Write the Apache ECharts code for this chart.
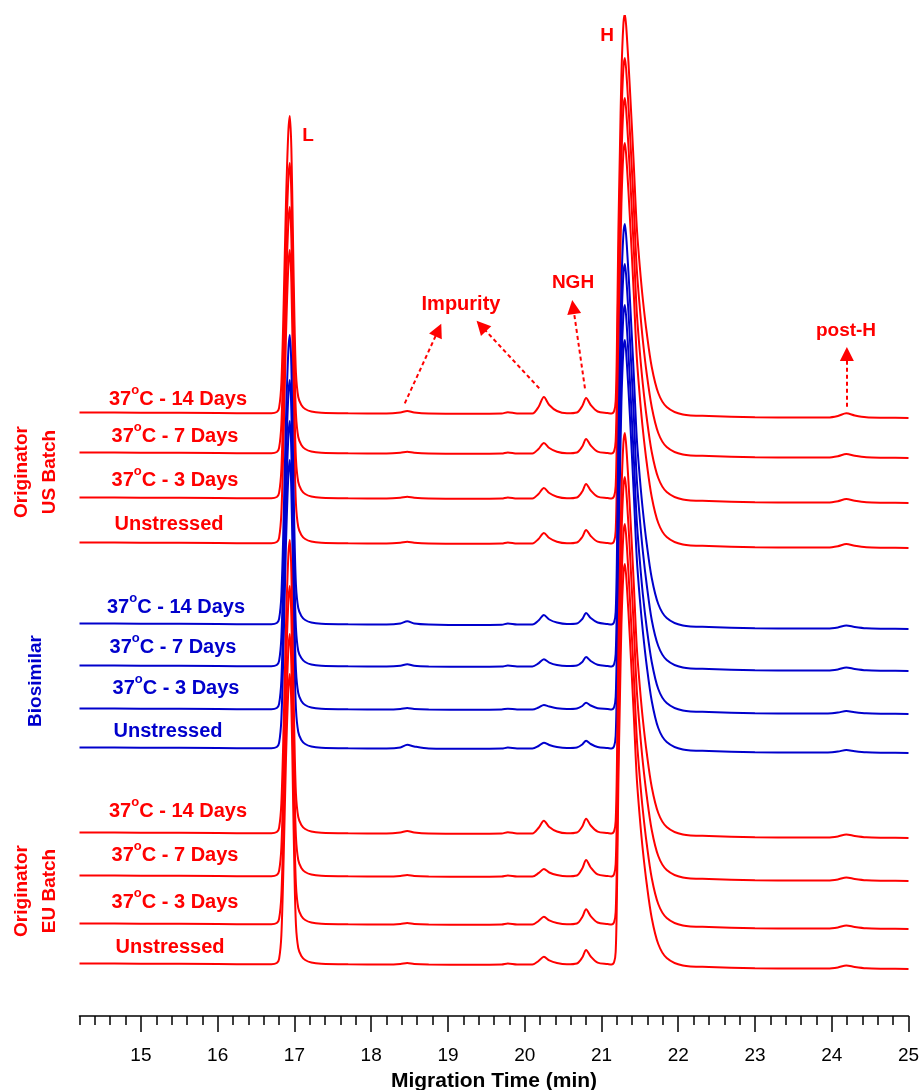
<!DOCTYPE html>
<html><head><meta charset="utf-8">
<script src="https://cdn.jsdelivr.net/npm/echarts@6/dist/echarts.min.js"></script>
<style>html,body{margin:0;padding:0;background:#fff}#c{width:921px;height:1090px}</style>
</head><body><div id="c"></div>
<script>
// Migration time grid (min) shared by all traces
const times = [14.2,15.0,16.0,16.5,16.70,16.77,16.80,
  16.83,16.86,16.89,16.92,16.94,16.96,16.98,17.00,17.02,17.05,17.09,17.14,17.22,17.35,
  17.7,18.2,18.38,18.47,18.56,18.75,19.3,19.7,19.78,19.9,20.1,
  20.18,20.25,20.32,20.42,20.55,
  20.68,20.75,20.80,20.86,20.95,21.08,21.13,
  21.165,21.185,21.20,21.22,21.24,21.26,21.285,21.305,21.33,21.37,21.42,21.46,21.50,21.54,21.59,21.655,21.74,21.85,22.06,
  22.4,23.0,23.6,23.95,24.08,24.19,24.3,24.45,24.7,25.0];

// Vertical offset (stack baseline) of each trace
const baselines = [603,563,518,473, 392,350,307,268, 183,140,92,52];

// Signal above each trace's baseline
const us14 = [0.5,0.3,0,-0.3,-0.3,1,5, 30,110,210,280,297,265,180,95,40,16,8,4,1.5,0.3, -0.3,-0.5,0.5,2,0.5,-0.5,-0.7,-0.5,0.8,-0.5,-0.5, 6,16,8,2,-0.3, 0.5,7,15,8,1.5,0,-0.5, 2,12,60,180,262,338,388,399,378,325,250,186,146,113,80,46,20,6,-1.5, -3,-4.2,-4.5,-4.5,-3,-0.3,-2.5,-4.3,-4.7,-5];
const us7 = [0.5,0.3,0,-0.3,-0.3,1,5, 29,107,205,273,290,259,176,93,39,16,8,4,1.5,0.3, -0.3,-0.5,0.2,1.2,0.2,-0.5,-0.7,-0.5,0.6,-0.5,-0.5, 4,10,5,1.2,-0.3, 0.5,6.5,14,7.5,1.4,0,-0.5, 2,12,59,178,259,335,384,395,374,322,248,184,145,112,79,46,20,6,-1.5, -3,-4.2,-4.5,-4.5,-3.2,-1,-2.8,-4.3,-4.7,-5];
const us3 = [0.5,0.3,0,-0.3,-0.3,1,5, 29,108,206,274,291,260,176,93,39,16,8,4,1.5,0.3, -0.3,-0.5,0.2,1.2,0.2,-0.5,-0.7,-0.5,0.6,-0.5,-0.5, 4,10,5,1.2,-0.3, 0.5,6.5,14,7.5,1.4,0,-0.5, 2,12,60,180,263,339,389,400,379,326,251,186,146,113,80,46,20,6,-1.5, -3,-4.2,-4.5,-4.5,-3.2,-1,-2.8,-4.3,-4.7,-5];
const usU = [0.5,0.3,0,-0.3,-0.3,1,5, 30,109,207,276,293,261,178,94,39,16,8,4,1.5,0.3, -0.3,-0.5,0.2,1.2,0.2,-0.5,-0.7,-0.5,0.6,-0.5,-0.5, 4,10,5,1.2,-0.3, 0.5,6,13,7,1.3,0,-0.5, 2,12,60,180,263,339,389,400,379,326,251,186,146,113,80,46,20,6,-1.5, -3,-4.2,-4.5,-4.5,-3.2,-1,-2.8,-4.3,-4.7,-5];
const bio14 = [0.5,0.3,0,-0.3,-0.3,1,5, 29,107,204,272,289,258,175,92,39,16,8,4,1.5,0.3, -0.3,-0.5,0.5,2.7,0.5,-0.5,-1,-0.8,0.5,-0.5,-0.5, 3.5,9,4.5,1.5,0, 0.5,5,11,6,1.5,0,-0.5, 2,12,60,180,263,339,389,400,379,326,251,186,146,113,80,46,20,6,-1.5, -3,-4.2,-4.5,-4.5,-3.4,-1.5,-3,-4.3,-4.7,-5];
const bio7 = [0.5,0.3,0,-0.3,-0.3,1,5, 29,106,202,270,286,255,173,91,38,15,8,4,1.5,0.3, -0.3,-0.5,0.2,1.8,0.2,-0.5,-0.8,-0.6,0.4,-0.5,-0.5, 2.7,6.7,3.4,1,0, 0.5,4,9,5,1.2,0,-0.5, 2,12,60,181,264,341,391,402,381,328,252,187,147,114,81,46,20,6,-1.5, -3,-4.2,-4.5,-4.5,-3.4,-1.5,-3,-4.3,-4.7,-5];
const bio3 = [0.5,0.3,0,-0.3,-0.3,1,5, 29,107,204,271,288,257,175,92,39,16,8,4,1.5,0.3, -0.3,-0.5,0,1,0,-0.5,-0.7,-0.5,0.3,-0.5,-0.5, 1.5,4,2.5,0.8,0, 0.5,3,6.3,3.5,0.8,0,-0.5, 2,12,61,182,265,342,393,404,383,329,253,188,148,114,81,47,20,6,-1.5, -3,-4.2,-4.5,-4.5,-3.6,-2,-3.2,-4.3,-4.7,-5];
const bioU = [0.5,0.3,0,-0.3,-0.3,1,5, 29,107,204,271,288,257,175,92,39,16,8,4,1.5,0.3, -0.3,-0.5,0.5,3.2,1.5,-0.5,-0.8,-0.6,0.4,-0.5,-0.5, 2,5.3,3,1,0, 0.5,3.5,7.3,4,1,0,-0.5, 2,12,61,184,268,346,397,408,386,333,256,190,149,116,82,47,20,6,-1.5, -3,-4.2,-4.5,-4.5,-3.6,-2,-3.2,-4.3,-4.7,-5];
const eu14 = [0.5,0.3,0,-0.3,-0.3,1,5, 30,109,207,276,293,261,178,94,39,16,8,4,1.5,0.3, -0.3,-0.5,0.5,2,0.5,-0.5,-0.7,-0.5,0.8,-0.5,-0.5, 5,12.3,6,1.5,-0.3, 0.5,6.5,14.3,7.5,1.4,0,-0.5, 2,12,60,180,263,339,389,400,379,326,251,186,146,113,80,46,20,6,-1.5, -3,-4.2,-4.5,-4.5,-3.4,-1.5,-3,-4.3,-4.7,-5];
const eu7 = [0.5,0.3,0,-0.3,-0.3,1,5, 29,107,205,273,290,259,176,93,39,16,8,4,1.5,0.3, -0.3,-0.5,0,1,0,-0.5,-0.7,-0.5,0.5,-0.5,-0.5, 2.8,7,3.5,1,-0.3, 0.5,7.5,16,8.5,1.6,0,-0.5, 2,12,60,180,262,338,388,399,378,325,250,186,146,113,80,46,20,6,-1.5, -3,-4.2,-4.5,-4.5,-3.4,-1.5,-3,-4.3,-4.7,-5];
const eu3 = [0.5,0.3,0,-0.3,-0.3,1,5, 29,107,205,273,290,259,176,93,39,16,8,4,1.5,0.3, -0.3,-0.5,0,1,0,-0.5,-0.7,-0.5,0.5,-0.5,-0.5, 3,7.3,3.6,1,-0.3, 0.5,7,14.7,7.8,1.5,0,-0.5, 2,12,60,180,263,339,389,400,379,326,251,186,146,113,80,46,20,6,-1.5, -3,-4.2,-4.5,-4.5,-3.4,-1.5,-3,-4.3,-4.7,-5];
const euU = [0.5,0.3,0,-0.3,-0.3,1,5, 29,107,205,273,290,259,176,93,39,16,8,4,1.5,0.3, -0.3,-0.5,0,1,0,-0.5,-0.7,-0.5,0.5,-0.5,-0.5, 3,7.3,3.6,1,-0.3, 0.5,6.5,14,7.5,1.4,0,-0.5, 2,12,60,180,263,339,389,400,379,326,251,186,146,113,80,46,20,6,-1.5, -3,-4.2,-4.5,-4.5,-3.4,-1.5,-3,-4.3,-4.7,-5];

const traces = [us14,us7,us3,usU, bio14,bio7,bio3,bioU, eu14,eu7,eu3,euU];
const traceNames = ['Originator US 37°C - 14 Days','Originator US 37°C - 7 Days','Originator US 37°C - 3 Days','Originator US Unstressed',
  'Biosimilar 37°C - 14 Days','Biosimilar 37°C - 7 Days','Biosimilar 37°C - 3 Days','Biosimilar Unstressed',
  'Originator EU 37°C - 14 Days','Originator EU 37°C - 7 Days','Originator EU 37°C - 3 Days','Originator EU Unstressed'];
const traceGroup = [0,0,0,0,1,1,1,1,0,0,0,0];
const traceLabels = ['37{s|o}C - 14 Days','37{s|o}C - 7 Days','37{s|o}C - 3 Days','Unstressed'];
const groupLabels = ['Originator\nUS Batch','Biosimilar','Originator\nEU Batch'];
const tickLabels = [15,16,17,18,19,20,21,22,23,24,25];

// Annotation arrows: [start, arrow-head] in (min, signal) units
const arrows = [
  [[18.438,612.7],[18.875,686]],
  [[20.189,627.7],[19.435,690]],
  [[20.785,627.7],[20.632,709]],
  [[24.197,609.3],[24.197,662]]
];

const RED = '#FF0000', BLUE = '#0000CC';
const colors = [RED, BLUE];
const FONT = '"Liberation Sans", Arial, sans-serif';

const minorTicks = [];
for (let k = 71; k <= 125; k++) minorTicks.push(+(k * 0.2).toFixed(1));

const series = traces.map((rel, i) => ({
  type: 'line', name: traceNames[i],
  data: times.map((t, k) => [t, baselines[i] + rel[k]]),
  showSymbol: false, symbol: 'none', smooth: 0.3,
  lineStyle: { color: colors[traceGroup[i]], width: 2 },
  itemStyle: { color: colors[traceGroup[i]] },
  silent: true, animation: false, z: 2
}));
series[0].markLine = {
  silent: true, animation: false,
  symbol: ['none', 'triangle'], symbolSize: 14,
  label: { show: false },
  lineStyle: { color: RED, width: 2, type: [4, 3] },
  itemStyle: { color: RED },
  data: arrows.map(a => [{ coord: a[0] }, { coord: a[1] }])
};

// text annotations (layout positions in pixels)
const labelPos = [
  [178,399],[175,436],[175,480],[169,524],
  [176,607],[173,647],[176,688],[168,731],
  [178,811],[175,855],[175,902],[170,947]
];
const graphics = [];
labelPos.forEach((p, i) => {
  const col = colors[traceGroup[i]];
  graphics.push({
    type: 'text', x: p[0], y: p[1], silent: true,
    style: {
      text: traceLabels[i % 4], fill: col,
      font: 'bold 20px ' + FONT, lineHeight: 30,
      align: 'center', verticalAlign: 'middle', textAlign: 'center', textVerticalAlign: 'middle',
      rich: { s: { fontSize: 13, fontWeight: 'bold', fontFamily: FONT, lineHeight: 13, verticalAlign: 'top', fill: col } }
    }
  });
});
const groupPos = [[36,472,RED],[36,681,BLUE],[36,891,RED]];
groupPos.forEach((p, i) => {
  graphics.push({
    type: 'text', x: p[0], y: p[1], rotation: Math.PI / 2, silent: true,
    style: { text: groupLabels[i], fill: p[2], font: 'bold 19px ' + FONT, lineHeight: 28,
      align: 'center', verticalAlign: 'middle', textAlign: 'center', textVerticalAlign: 'middle' }
  });
});
const annos = [['L',308,136,19],['H',607,36,19],['Impurity',461,304,20],['NGH',573,283,19],['post-H',846,331,19]];
annos.forEach(a => {
  graphics.push({
    type: 'text', x: a[1], y: a[2], silent: true,
    style: { text: a[0], fill: RED, font: 'bold ' + a[3] + 'px ' + FONT,
      align: 'center', verticalAlign: 'middle', textAlign: 'center', textVerticalAlign: 'middle' }
  });
});

const chart = echarts.init(document.getElementById('c'), null, { renderer: 'canvas' });
chart.setOption({
  animation: false,
  backgroundColor: '#fff',
  textStyle: { fontFamily: FONT },
  grid: { left: 79.5, right: 12.5, top: 16, bottom: 74, containLabel: false, outerBoundsMode: 'none' },
  xAxis: [{
    type: 'value', min: 14.2, max: 25, position: 'bottom',
    axisLine: { show: true, onZero: false, lineStyle: { color: '#000', width: 1.5 } },
    axisTick: { show: true, inside: false, length: 16, customValues: tickLabels, lineStyle: { color: '#000', width: 1.5 } },
    axisLabel: { show: true, customValues: tickLabels, margin: 30, color: '#000', fontSize: 19, fontFamily: FONT },
    splitLine: { show: false },
    name: 'Migration Time (min)', nameLocation: 'middle', nameGap: 55,
    nameTextStyle: { color: '#000', fontSize: 21, fontWeight: 'bold', fontFamily: FONT }
  }, {
    type: 'value', min: 14.2, max: 25, position: 'bottom', gridIndex: 0,
    axisLine: { show: false, onZero: false },
    axisTick: { show: true, inside: false, length: 9, customValues: minorTicks, lineStyle: { color: '#000', width: 1.5 } },
    axisLabel: { show: false },
    splitLine: { show: false }
  }],
  yAxis: { type: 'value', min: 0, max: 1000, show: false },
  series: series,
  graphic: graphics
});
</script></body></html>
